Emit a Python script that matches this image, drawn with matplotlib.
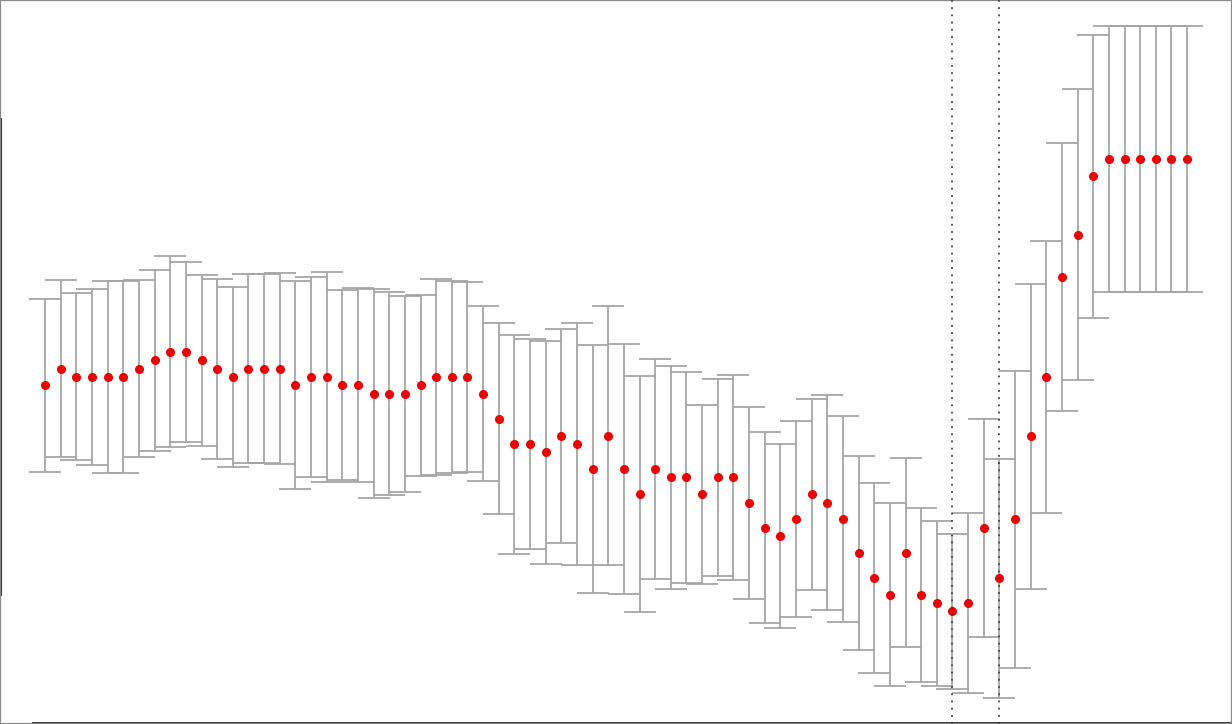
import matplotlib
matplotlib.use("Agg")
import matplotlib.pyplot as plt
import numpy as np

# estimate per item (index 0..73) with lower / upper bound
est = [40, 42, 41, 41, 41, 41, 42, 43, 44, 44,
       43, 42, 41, 42, 42, 42, 40, 41, 41, 40,
       40, 39, 39, 39, 40, 41, 41, 41, 39, 36,
       33, 33, 32, 34, 33, 30, 34, 30, 27, 30,
       29, 29, 27, 29, 29, 26, 23, 22, 24, 27,
       26, 24, 20, 17, 15, 20, 15, 14, 13, 14,
       23, 17, 24, 34, 41, 53, 58, 65, 67, 67,
       67, 67, 67, 67]
upper = [50.3, 52.6, 51.0, 51.5, 52.5, 52.5, 52.6, 53.8, 55.5, 54.8,
         53.2, 52.7, 51.7, 53.3, 53.3, 53.4, 52.5, 53.0, 53.6, 51.4,
         51.6, 51.5, 51.1, 50.7, 50.8, 52.7, 52.5, 52.3, 49.5, 47.4,
         46.0, 45.6, 45.3, 46.7, 47.4, 44.8, 49.5, 44.9, 41.1, 43.2,
         42.3, 41.6, 37.7, 40.8, 41.2, 37.4, 34.4, 33.0, 35.7, 38.4,
         38.8, 36.3, 31.6, 28.3, 25.9, 31.3, 25.3, 23.8, 22.3, 24.7,
         36.0, 31.2, 41.7, 52.1, 57.2, 69.0, 75.4, 81.9, 82.9, 82.9,
         82.9, 82.9, 82.9, 82.9]
lower = [29.7, 31.4, 31.1, 30.5, 29.5, 29.5, 31.4, 32.2, 32.6, 33.2,
         32.8, 31.2, 30.3, 30.7, 30.7, 30.6, 27.6, 29.1, 28.5, 28.7,
         28.4, 26.5, 26.9, 27.3, 29.2, 29.3, 29.5, 29.7, 28.6, 24.6,
         19.9, 20.4, 18.7, 21.2, 18.6, 15.2, 18.5, 15.1, 12.9, 16.9,
         15.7, 16.4, 16.3, 17.2, 16.8, 14.5, 11.6, 11.0, 12.3, 15.5,
         13.2, 11.7, 8.4, 5.7, 4.1, 8.7, 4.6, 4.1, 3.7, 3.2,
         10.0, 2.7, 6.2, 15.7, 24.7, 36.9, 40.6, 48.0, 51.1, 51.1,
         51.1, 51.1, 51.1, 51.1]
marked = [58, 61]

x = np.arange(len(est))
est = np.array(est)
yerr = [est - np.array(lower), np.array(upper) - est]

fig = plt.figure(figsize=(12.32, 7.24), dpi=100)
ax = fig.add_axes([0, 0, 1, 1])

ax.errorbar(x, est, yerr=yerr, fmt="none", ecolor="#a6a6a6",
            elinewidth=1.3, capsize=11.5, capthick=1.3, zorder=2)
ax.plot(x, est, "o", color="#ee0000", markersize=5.5, zorder=3)

for m in marked:
    ax.axvline(m, color="#444444", linestyle=(0, (1, 3)), linewidth=1.3, zorder=4)

ax.set_xlim(-2.88, 75.87)
ax.set_ylim(-0.45, 86.04)
ax.set_xticks([])
ax.set_yticks([])

for s in ax.spines.values():
    s.set_color("#888888")
    s.set_linewidth(1.6)

# darker pieces of the frame
ax.plot([0, 0], [0.18, 0.835], color="#333333", lw=2.2,
        transform=ax.transAxes, clip_on=False)
ax.plot([0.027, 1], [0.002, 0.002], color="#333333", lw=2.2,
        transform=ax.transAxes, clip_on=False)

fig.savefig("out.png", dpi=100)
